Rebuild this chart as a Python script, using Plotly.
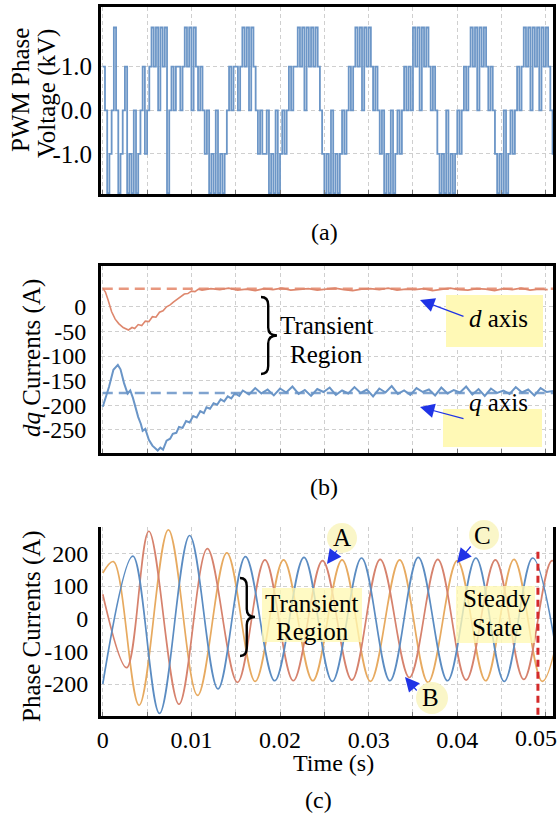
import plotly.graph_objects as go

W, H = 559, 825
FONT = "Liberation Serif"

# ---------------- (a) PWM phase voltage ----------------
PWM_SLOT_S = 0.00025          # width of one switching slot (s)
PWM_LEVELS_KV = {-2: -1.9, -1: -1.0, 0: 0.0, 1: 1.0, 2: 1.9}
PWM_CODES = [
    1, 0, -2, -1, 0,
    2,
    0, -2, -1, 0, 1, -2, -1, -2, 0, -2, -1,
    0, 1, -1, 0,
    1, 2, 1, 2, 0, 2, 1, 2,
    -2, 0, 1, 0, 1, 1, 0, 1,
    2, 1, 2, 0, 2,
    1, 0, 1, 0,
    -1, 0,
    -2, -1, -2, 0, -2, -1, -2, -1,
    0,
    1, 0, 1, 1, 0, 1,
    2, 1, 2, 0, 2, 1,
    0, -1, 0, -1, -1, 0,
    -2, -1, -2, 0, -2, -1,
    0, -1, 0, 1, 0, 1, 1,
    2, 1, 2, 0, 2, 1, 2, 1, 2,
    1, 0, -1,
    -2, -1, -2, 0, -2, -1, -2, -1,
    0, -1, 0, 1, 0, 1,
    2, 1, 2, 0, 2, 1, 2,
    1, 0, 1, 0, -1, 0,
    -2, -1, -2, 0, -2, -1,
    0, -1, 0, 1, 0, 1, 0,
    2, 1, 2, 0, 2, 1, 2,
    1, 0, 1, 0, -1,
    -2, -1, -2, 0, -2, -1, -2, -1,
    0, -1, 0, 1, 0, 1,
    2, 1, 2, 0, 2, 1, 2,
    1, 0, 1, 0, -1,
    -2, -1, -2, 0, -2, -1,
    0, -1, 0, 1, 0, 1,
    2, 1, 2, 0, 2, 1, 2, 0, 2, 1, 2,
    1, 0, -1,
]

# ---------------- (b) dq currents ----------------
ID_REF = 37
IQ_REF = -175
ID_T = [0.0, 0.0003, 0.0006, 0.001, 0.0014, 0.0018, 0.0023, 0.0029, 0.0033, 0.0036,
        0.004, 0.0044, 0.0048, 0.0052, 0.0056, 0.006, 0.0064, 0.0068, 0.0072, 0.0076,
        0.008, 0.0084, 0.0088, 0.0092, 0.0096, 0.01, 0.0104, 0.0108]
ID_A = [38, 30, 14, -10, -25, -34, -42, -47, -42, -44,
        -36, -38, -29, -30, -20, -21, -11, -8, 0, 4,
        10, 16, 20, 26, 27, 32, 31, 36]
ID_STEADY_T0 = 0.0112
ID_STEADY_DT = 0.001
ID_STEADY_A = [34, 37, 35, 38, 34, 36, 33, 37, 35, 38, 34, 36, 37, 34, 36, 38, 35, 33, 36, 37,
               35, 38, 34, 36, 35, 37, 33, 36, 38, 35, 34, 37, 36, 33, 37, 35, 38, 34, 36, 35]

IQ_T = [0.0, 0.0007, 0.0012, 0.0017, 0.002, 0.0024, 0.0028, 0.0031, 0.0034, 0.0037,
        0.004, 0.0043, 0.0045, 0.0048, 0.0052, 0.0056, 0.0062, 0.0065, 0.0068, 0.0072,
        0.0076, 0.0079, 0.0083, 0.0086, 0.009, 0.0094, 0.0098, 0.0102, 0.0106, 0.011,
        0.0114, 0.0117, 0.0121, 0.0125, 0.0129, 0.0133, 0.0137, 0.0141, 0.0145, 0.0149,
        0.0154]
IQ_A = [-203, -163, -128, -118, -127, -155, -176, -170, -185, -205,
        -224, -238, -252, -248, -270, -282, -292, -286, -290, -272,
        -268, -258, -256, -244, -246, -232, -235, -222, -225, -212,
        -216, -204, -207, -196, -199, -188, -192, -182, -186, -176,
        -181]
IQ_STEADY_T0 = 0.0158
IQ_STEADY_DT = 0.0007
IQ_STEADY_A = [-170, -178, -165, -176, -168, -180, -166, -174, -162, -177,
               -169, -181, -167, -173, -164, -179, -170, -176, -163, -175,
               -168, -182, -166, -174, -161, -177, -170, -179, -165, -173,
               -168, -180, -164, -176, -169, -174, -162, -178, -167, -181,
               -166, -175, -170, -177, -163, -174, -168, -180, -165, -173, -171]

# ---------------- (c) phase currents (extrema) ----------------
IA_T = [0.0, 0.0034, 0.0064, 0.0098, 0.0130, 0.0161, 0.0194, 0.0227, 0.0259, 0.0292,
        0.0324, 0.0356, 0.0389, 0.0421, 0.0453, 0.0485, 0.0517]
IA_A = [-200, 192, -290, 255, -215, 190, -190, 188, -192, 186,
        -190, 188, -190, 186, -192, 186, -190]
IB_T = [0.0, 0.0027, 0.0052, 0.0086, 0.0118, 0.0152, 0.0183, 0.0215, 0.0248, 0.0281,
        0.0313, 0.0346, 0.0378, 0.0410, 0.0443, 0.0475, 0.0507, 0.0540]
IB_A = [75, -150, 268, -262, 215, -195, 180, -190, 178, -188,
        182, -180, 182, -188, 180, -186, 178, -188]
IC_T = [0.0, 0.0012, 0.0041, 0.0074, 0.0107, 0.0140, 0.0172, 0.0204, 0.0237, 0.0270,
        0.0302, 0.0335, 0.0367, 0.0400, 0.0432, 0.0464, 0.0496, 0.0529]
IC_A = [140, 175, -265, 272, -235, 202, -192, 180, -190, 180,
        -192, 180, -195, 178, -190, 182, -192, 180]
STEADY_MARK_T = 0.0491
STEADY_MARK_TOP = 205

X_TICKS = [0, 0.01, 0.02, 0.03, 0.04, 0.05]
X_TICK_TEXT = ["0", "0.01", "0.02", "0.03", "0.04", "0.05"]
A_TICKS = [-1, 0, 1]
A_TICK_TEXT = ["-1.0", "0.0", "1.0"]
B_TICKS = [0, -50, -100, -150, -200, -250]
C_TICKS = [200, 100, 0, -100, -200]

# ---------------- helpers ----------------
def px(x):
    return x / W

def py(y):
    return 1 - y / H

pwm_t = [i * PWM_SLOT_S for i in range(len(PWM_CODES) + 1)]
pwm_v = [PWM_LEVELS_KV[c] for c in PWM_CODES] + [PWM_LEVELS_KV[PWM_CODES[-1]]]

id_t = ID_T + [ID_STEADY_T0 + i * ID_STEADY_DT for i in range(len(ID_STEADY_A))]
id_a = ID_A + ID_STEADY_A
iq_t = IQ_T + [IQ_STEADY_T0 + i * IQ_STEADY_DT for i in range(len(IQ_STEADY_A))]
iq_a = IQ_A + IQ_STEADY_A

fig = go.Figure()

fig.add_trace(go.Scatter(x=pwm_t, y=pwm_v, mode="lines", line=dict(color="#6C96C7", width=1.8, shape="hv"),
                         xaxis="x", yaxis="y"))

fig.add_trace(go.Scatter(x=[0, 0.0508], y=[ID_REF, ID_REF], mode="lines",
                         line=dict(color="#E8977E", width=2.5, dash="10px,6px"), xaxis="x2", yaxis="y2"))
fig.add_trace(go.Scatter(x=[0, 0.0508], y=[IQ_REF, IQ_REF], mode="lines",
                         line=dict(color="#7FA3CF", width=2.5, dash="10px,6px"), xaxis="x2", yaxis="y2"))
fig.add_trace(go.Scatter(x=id_t, y=id_a, mode="lines", line=dict(color="#DE876D", width=1.6),
                         xaxis="x2", yaxis="y2"))
fig.add_trace(go.Scatter(x=iq_t, y=iq_a, mode="lines", line=dict(color="#6A95C7", width=2),
                         xaxis="x2", yaxis="y2"))

for tt, aa, col in [(IC_T, IC_A, "#E7AA60"), (IB_T, IB_A, "#D6826D"), (IA_T, IA_A, "#5B8CC2")]:
    fig.add_trace(go.Scatter(x=tt, y=aa, mode="lines", line=dict(color=col, width=1.7, shape="spline", smoothing=1.0),
                             xaxis="x3", yaxis="y3"))

GRID = dict(showgrid=True, gridcolor="#CFCFCF", gridwidth=1, griddash="4px,3px", zeroline=False)
XDOM = [px(101), px(553)]
XR = [-0.0002, 0.0508]

def tf(size):
    return dict(family=FONT, size=size, color="black")

def xax(anchor, labels, mirror, ticktext):
    d = dict(domain=XDOM, range=XR, anchor=anchor, tickvals=X_TICKS, ticktext=ticktext,
             showticklabels=labels, ticks="inside", ticklen=4, tickcolor="#777",
             ticklabeloverflow="allow", automargin=False,
             minor=dict(dtick=0.005, tick0=0, showgrid=True, gridcolor="#CFCFCF", griddash="4px,3px",
                        ticks="inside", ticklen=4, tickcolor="#777"),
             showline=True, linecolor="black", linewidth=3, mirror=mirror, tickfont=tf(24), **GRID)
    return d

def yax(anchor, dom, rng, tv, tt, standoff, size):
    return dict(domain=dom, range=rng, anchor=anchor, tickvals=tv, ticktext=tt, ticks="",
                showline=True, linecolor="black", linewidth=3, mirror=True, tickfont=tf(size),
                ticklabelstandoff=standoff, automargin=False, ticklabeloverflow="allow", **GRID)

# the last time label would run off the page edge, so it is drawn right-aligned as a text below
x3_text = X_TICK_TEXT[:-1] + [""]

layout = dict(
    width=W, height=H, margin=dict(l=0, r=0, t=0, b=0, autoexpand=False),
    paper_bgcolor="white", plot_bgcolor="white", showlegend=False,
    font=dict(family=FONT, size=24, color="black"),
    xaxis=xax("y", False, True, X_TICK_TEXT),
    yaxis=yax("x", [py(194), py(7)], [-1.92, 2.37], A_TICKS, A_TICK_TEXT, 1, 25),
    xaxis2=xax("y2", False, True, X_TICK_TEXT),
    yaxis2=yax("x2", [py(453), py(266)], [-297, 83], B_TICKS, [str(v) for v in B_TICKS], 7, 24),
    xaxis3=xax("y3", True, False, x3_text),
    yaxis3=yax("x3", [py(716), py(527)], [-298, 281], C_TICKS, [str(v) for v in C_TICKS], 5, 24),
)
fig.update_layout(**layout)

shapes = []
def rect(x0, y0, x1, y1, color):
    shapes.append(dict(type="rect", xref="paper", yref="paper", x0=px(x0), x1=px(x1), y0=py(y1), y1=py(y0),
                       fillcolor=color, line=dict(width=0), layer="above"))

def circ(cx, cy, r, color):
    shapes.append(dict(type="circle", xref="paper", yref="paper", x0=px(cx - r), x1=px(cx + r),
                       y0=py(cy + r), y1=py(cy - r), fillcolor=color, line=dict(width=0), layer="above"))

def brace(x0, y0, y1, w):
    xs = x0 + w * 0.45
    ym = (y0 + y1) / 2
    r = 8
    p = (f"M {px(x0)},{py(y0)} Q {px(xs)},{py(y0)} {px(xs)},{py(y0 + r)} "
         f"L {px(xs)},{py(ym - r)} Q {px(xs)},{py(ym)} {px(x0 + w)},{py(ym)} "
         f"Q {px(xs)},{py(ym)} {px(xs)},{py(ym + r)} L {px(xs)},{py(y1 - r)} "
         f"Q {px(xs)},{py(y1)} {px(x0)},{py(y1)}")
    shapes.append(dict(type="path", xref="paper", yref="paper", path=p,
                       line=dict(color="black", width=2.4), layer="above"))

# (b) yellow boxes
rect(446, 295, 543, 347, "#FFF9B6")
rect(443, 409, 542, 447, "#FFF9B6")
brace(261, 297, 374, 16)
# (c) red dashed marker then yellow boxes
shapes.append(dict(type="line", xref="x3", yref="y3", x0=STEADY_MARK_T, x1=STEADY_MARK_T,
                   y0=STEADY_MARK_TOP, y1=-298, line=dict(color="#D42A2A", width=3, dash="7px,5px"), layer="above"))
rect(262, 588, 362, 642, "rgba(255,249,180,0.78)")
rect(456, 586, 535, 643, "rgba(255,249,180,0.78)")
circ(342, 538, 15, "rgba(250,245,195,0.92)")
circ(484, 535, 15, "rgba(250,245,195,0.92)")
circ(432, 698, 16, "rgba(250,245,195,0.92)")
brace(240, 578, 656, 15)
fig.update_layout(shapes=shapes)

ann = []
def txt(x, y, s, size=24, angle=0, xanchor="center"):
    ann.append(dict(x=px(x), y=py(y), xref="paper", yref="paper", text=s, showarrow=False,
                    xanchor=xanchor, yanchor="middle", textangle=angle,
                    font=dict(family=FONT, size=size, color="black")))

def arrow(hx, hy, tx, ty):
    ann.append(dict(x=px(hx), y=py(hy), xref="paper", yref="paper", ax=tx - hx, ay=ty - hy,
                    text="", showarrow=True, arrowhead=2, arrowsize=2.4, arrowwidth=1.2,
                    arrowcolor="#1F33E6", standoff=0, startstandoff=0))

txt(20, 90, "PWM Phase", size=25, angle=-90)
txt(47, 94, "Voltage (kV)", size=25, angle=-90)
txt(32, 358, "<i>dq</i> Currents (A)", size=25, angle=-90)
txt(32, 626, "Phase Currents (A)", size=25, angle=-90)
txt(559, 738, X_TICK_TEXT[-1], xanchor="right")
txt(324, 232, "(a)")
txt(324, 487, "(b)")
txt(318, 800, "(c)")
txt(333, 763, "Time (s)", size=24)
txt(327, 325, "Transient", size=25)
txt(327, 354, "Region", size=25)
txt(498, 318, "<i>d</i> axis", size=25)
txt(498, 402, "<i>q</i> axis", size=25)
txt(312, 603, "Transient", size=25)
txt(312, 631, "Region", size=25)
txt(497, 598, "Steady", size=25)
txt(497, 627, "State", size=25)
txt(342, 537, "A", size=25)
txt(482, 535, "C", size=25)
txt(430, 697, "B", size=25)
arrow(420, 300, 465, 317)
arrow(420, 407, 465, 419)
arrow(327, 564, 338, 549)
arrow(457, 563, 472, 545)
arrow(405, 677, 418, 692)
fig.update_layout(annotations=ann)

fig.write_html("out.html")
